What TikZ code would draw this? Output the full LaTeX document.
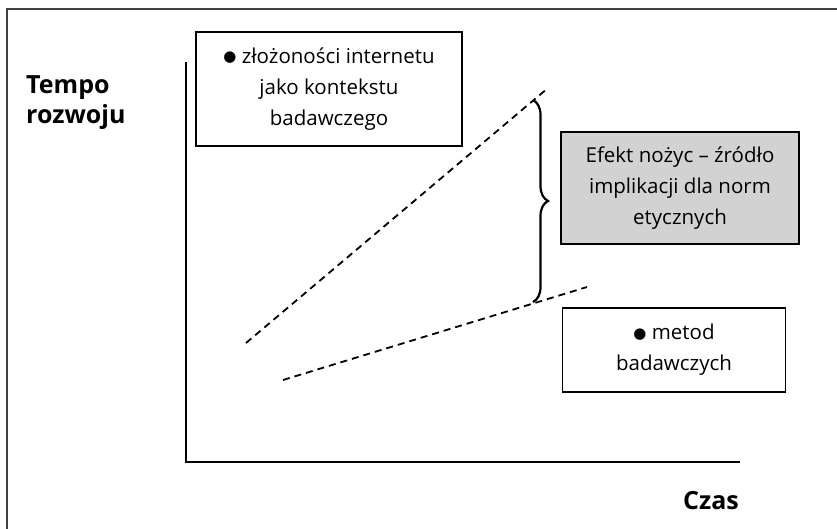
\documentclass[tikz,border=0pt]{standalone}
\usepackage{fontspec}
\setmainfont{Open Sans}
\newfontfamily\symfont{DejaVu Sans}
\newcommand{\bulletmark}{\raisebox{1.8pt}{\symfont\fontsize{15}{15}\selectfont ●}}
\usetikzlibrary{decorations.pathreplacing}
\definecolor{boxgrey}{RGB}{210,210,210}
\tikzset{
  x=1pt, y=-1pt,
  frameline/.style={line width=1.4pt, draw=black!75},
  axisline/.style={line width=1.6pt},
  trendline/.style={line width=1.8pt, dash pattern=on 7pt off 5pt},
  bracestyle/.style={line width=2.2pt, decorate, decoration={brace, amplitude=15pt}},
  infobox/.style={draw, line width=1.3pt, align=center, inner sep=0pt,
    font=\fontsize{20.5}{31}\selectfont},
  axislabel/.style={font=\fontsize{25}{30}\selectfont\bfseries, align=left, inner sep=0pt},
}
\begin{document}
\begin{tikzpicture}
\useasboundingbox (0,0) rectangle (837,529);
% outer frame (partially visible)
\draw[frameline] (7,529) -- (7,9) -- (837,9);
% axes
\coordinate (ytop) at (186,62);
\coordinate (origin) at (186,462);
\coordinate (xend) at (740,462);
\draw[axisline] (ytop) -- (origin) -- (xend);
% labels
\node[axislabel, anchor=west] (tempo) at (26,103) {Tempo\\rozwoju};
\node[axislabel, anchor=base] (czas) at (711,509) {Czas};
% boxes
\node[infobox, minimum width=266, minimum height=114] (internet) at (329,89)
  {\bulletmark\ złożoności internetu\\jako kontekstu\\badawczego};
\node[infobox, fill=boxgrey, minimum width=238, minimum height=112] (efekt) at (680,188)
  {Efekt nożyc – źródło\\implikacji dla norm\\etycznych};
\node[infobox, minimum width=223, minimum height=84] (metod) at (674,350)
  {\bulletmark\ metod\\badawczych};
% dashed trend lines
\coordinate (a1) at (246,343);
\coordinate (a2) at (548,88);
\coordinate (b1) at (283,380);
\coordinate (b2) at (587,287);
\draw[trendline] (a1) -- (a2);
\draw[trendline] (b1) -- (b2);
% brace
\coordinate (brtop) at (533,100);
\coordinate (brbot) at (533,302);
\draw[bracestyle] (brtop) -- (brbot);
\end{tikzpicture}
\end{document}
